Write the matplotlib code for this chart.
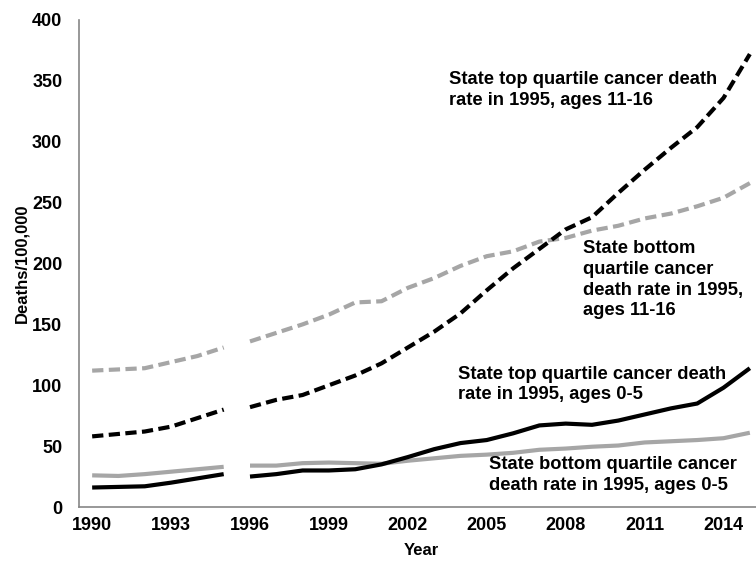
import numpy as np
import matplotlib.pyplot as plt

# Tasas de muerte por cáncer (muertes por 100 000), 1990-2015
años = np.arange(1990, 2016)

top_11_16 = [58, 60, 62, 66, 73, 80,
             82, 88, 92, 100, 108, 118, 131, 144, 159, 178, 196, 212, 228, 238,
             258, 277, 295, 312, 336, 372]
bottom_11_16 = [112, 113, 114, 119, 124, 131,
                136, 143, 150, 158, 168, 169, 180, 188, 198, 206, 210, 218, 221, 227,
                231, 237, 241, 247, 254, 266]
top_0_5 = [16, 16.5, 17, 20, 23.5, 27,
           25, 27, 30, 30, 31, 35, 41, 47.5, 52.5, 55, 60.5, 67, 68.5, 67.5,
           71, 76, 81, 85, 98, 114]
bottom_0_5 = [26, 25.5, 27, 29, 31, 33,
              34, 34, 36, 36.5, 36, 35.5, 38, 40, 42, 43, 44.5, 47, 48, 49.5,
              50.5, 53, 54, 55, 56.5, 61]

etiquetas_x = [1990, 1993, 1996, 1999, 2002, 2005, 2008, 2011, 2014]
etiquetas_y = [0, 50, 100, 150, 200, 250, 300, 350, 400]

GRIS = "#a6a6a6"
plt.rcParams['font.family'] = ['Liberation Sans', 'DejaVu Sans']

fig = plt.figure(figsize=(7.56, 5.62), dpi=100)
ax = fig.add_axes([79 / 756, 55 / 562, 684 / 756, 487 / 562])

# la serie se interrumpe entre 1995 y 1996
tramos = [años <= 1995, años >= 1996]

def graficar(valores, color, discontinua):
    valores = np.asarray(valores, dtype=float)
    for m in tramos:
        linea, = ax.plot(años[m], valores[m], color=color, lw=3,
                         solid_capstyle='butt')
        if discontinua:
            linea.set_dashes((2.7, 1.3))
            linea.set_dash_capstyle('butt')

graficar(bottom_11_16, GRIS, True)
graficar(top_11_16, "black", True)
graficar(bottom_0_5, GRIS, False)
graficar(top_0_5, "black", False)

ax.set_xlim(1989.5, 2015.5)
ax.set_ylim(0, 400)
ax.set_xticks(etiquetas_x)
ax.set_yticks(etiquetas_y)
ax.tick_params(length=0, labelsize=13)
ax.tick_params(axis='y', pad=12)
ax.tick_params(axis='x', pad=7)
for lab in ax.get_xticklabels() + ax.get_yticklabels():
    lab.set_fontweight('bold')

for lado in ['top', 'right']:
    ax.spines[lado].set_visible(False)
for lado in ['left', 'bottom']:
    ax.spines[lado].set_color('#868686')
    ax.spines[lado].set_linewidth(1.2)

ax.set_xlabel("Year", fontsize=12, fontweight='bold', labelpad=7)
ax.set_ylabel("Deaths/100,000", fontsize=12, fontweight='bold', labelpad=2)

estilo = dict(fontsize=13.2, fontweight='bold', ha='left', va='top',
              linespacing=1.28, transform=ax.transData)
ax.text(2003.55, 358, "State top quartile cancer death\nrate in 1995, ages 11-16", **estilo)
ax.text(2008.65, 219, "State bottom\nquartile cancer\ndeath rate in 1995,\nages 11-16", **estilo)
ax.text(2003.9, 116, "State top quartile cancer death\nrate in 1995, ages 0-5", **estilo)
ax.text(2005.1, 42, "State bottom quartile cancer\ndeath rate in 1995, ages 0-5", **estilo)

fig.savefig("out.png", dpi=100)
